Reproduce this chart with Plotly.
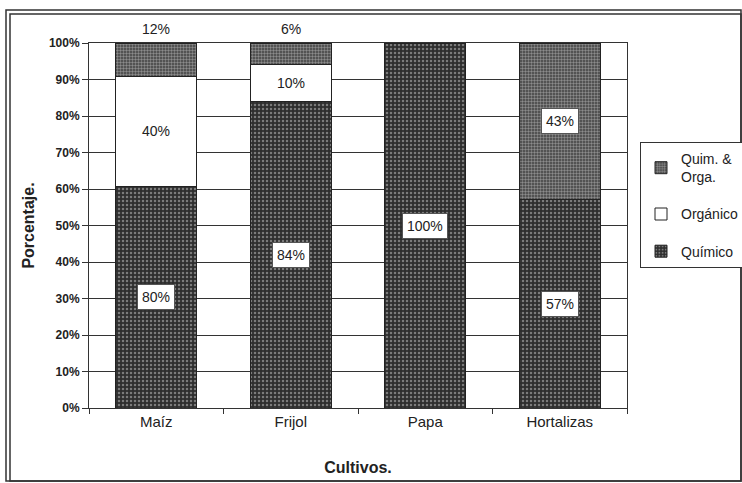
import plotly.graph_objects as go

categorias = ["Maíz", "Frijol", "Papa", "Hortalizas"]
quimico = [80, 84, 100, 57]
organico = [40, 10, 0, 0]
quim_orga = [12, 6, 0, 43]
y_ticks = [0, 10, 20, 30, 40, 50, 60, 70, 80, 90, 100]
y_tick_labels = [f"{v}%" for v in y_ticks]

W, H = 742, 483
L, R, T, B = 89, 115, 43, 75

fig = go.Figure()
series = [
    ("Químico", quimico, dict(shape=".", bgcolor="#2e2e2e", fgcolor="#c8c8c8", size=4, solidity=0.3)),
    ("Orgánico", organico, dict(shape="", bgcolor="white", fgcolor="white")),
    ("Quim. &<br>Orga.", quim_orga, dict(shape=".", bgcolor="#404040", fgcolor="#d8d8d8", size=3, solidity=0.5)),
]
for k, (name, vals, pat) in enumerate(series):
    fig.add_trace(go.Bar(
        x=categorias, y=vals, name=name, legendgroup=f"g{k}", legendrank=1000 - k,
        marker=dict(color=pat["bgcolor"], pattern=pat, line=dict(color="#222", width=1)),
        width=0.6,
    ))

# labels computed from data
totals = [a + b + c for a, b, c in zip(quimico, organico, quim_orga)]
for i, cat in enumerate(categorias):
    base = 0.0
    for name, vals, _ in series:
        v = vals[i]
        if v == 0:
            continue
        pct = v / totals[i] * 100
        center = base + pct / 2
        base = base + pct
        if name.startswith("Quim.") and cat in ("Maíz", "Frijol"):
            fig.add_annotation(x=cat, y=100, text=f"{v}%", showarrow=False,
                               yshift=14, font=dict(size=14, color="#222"))
        elif name == "Orgánico":
            fig.add_annotation(x=cat, y=center, text=f"{v}%", showarrow=False,
                               font=dict(size=14, color="#222"))
        else:
            fig.add_annotation(x=cat, y=center, text=f"{v}%", showarrow=False,
                               bgcolor="white", bordercolor="#555", borderwidth=1, borderpad=4,
                               font=dict(size=14, color="#222"))

def px_x(p):
    return (p - L) / (W - L - R)

def px_y(p):
    return (H - B - p) / (H - T - B)

# double frame
for (x0, y0, x1, y1) in [(6, 10, 741, 481), (10, 14, 741, 481)]:
    fig.add_shape(type="rect", xref="paper", yref="paper",
                  x0=px_x(x0), x1=px_x(x1), y0=px_y(y1), y1=px_y(y0),
                  line=dict(color="#333", width=1.5), layer="below")

fig.update_layout(
    width=W, height=H,
    margin=dict(l=L, r=R, t=T, b=B, autoexpand=False),
    barmode="stack", barnorm="percent",
    paper_bgcolor="white", plot_bgcolor="white",
    font=dict(family="Liberation Sans, Arial", color="#222"),
    showlegend=True,
    legend=dict(x=px_x(640), y=px_y(142), xanchor="left", yanchor="top",
                bordercolor="#333", borderwidth=1, bgcolor="white",
                font=dict(size=14), traceorder="grouped", tracegroupgap=16,
                itemwidth=30, entrywidth=70),
    xaxis=dict(title=dict(text="<b>Cultivos.</b>", font=dict(size=16), standoff=32),
               automargin=False,
               tickfont=dict(size=15), showline=True, linecolor="#333", mirror=True,
               ticks="outside", tickson="boundaries", ticklen=5, tickcolor="#333"),
    yaxis=dict(title=dict(text="<b>Porcentaje.</b>", font=dict(size=16), standoff=10),
               automargin=False,
               range=[0, 100], tickvals=y_ticks, ticktext=y_tick_labels,
               tickfont=dict(size=12, family="Liberation Sans, Arial", weight="bold"),
               showgrid=True, gridcolor="#333", gridwidth=1,
               showline=True, linecolor="#333", mirror=True,
               ticks="outside", ticklen=6, tickcolor="#333"),
)

fig.write_html("out.html", config={"displayModeBar": False},
               post_script="document.body.style.margin='0';document.body.style.overflow='hidden';")
